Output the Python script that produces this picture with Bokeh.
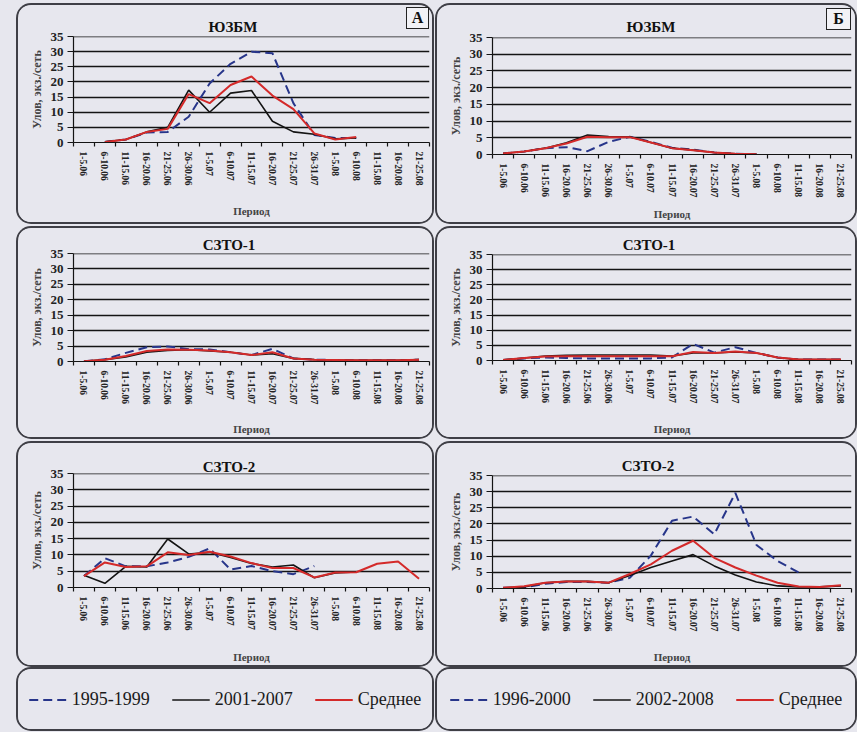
import numpy as np
from bokeh.plotting import figure
from bokeh.models import Range1d, FixedTicker, CustomJSTickFormatter, Div
from bokeh.embed import file_html
from bokeh.resources import INLINE

# ---------------- data ----------------
periods = ["1-5.06", "6-10.06", "11-15.06", "16-20.06", "21-25.06", "26-30.06",
           "1-5.07", "6-10.07", "11-15.07", "16-20.07", "21-25.07", "26-31.07",
           "1-5.08", "6-10.08", "11-15.08", "16-20.08", "21-25.08"]
y_ticks = [0, 5, 10, 15, 20, 25, 30, 35]
NA = None

# column А : 1995-1999 / 2001-2007 / Среднее
a_yuzbm_1995 = [NA, 0.2, 1.0, 3.3, 3.5, 8.5, 19.5, 26.0, 30.0, 29.5, 13.0, 2.5, 1.5, 1.5, NA, NA, NA]
a_yuzbm_2001 = [NA, 0.2, 1.0, 3.5, 5.0, 17.3, 10.0, 16.3, 17.2, 7.0, 3.5, 2.7, 1.2, 1.5, NA, NA, NA]
a_yuzbm_mean = [NA, 0.2, 1.0, 3.5, 4.5, 16.0, 13.0, 19.0, 21.8, 15.5, 11.0, 3.0, 1.0, 1.8, NA, NA, NA]

a_szto1_1995 = [0.1, 0.7, 2.8, 4.6, 4.9, 4.0, 3.9, 3.0, 2.1, 4.1, 1.0, 0.6, 0.5, 0.4, 0.4, 0.4, 0.6]
a_szto1_2001 = [0.1, 0.6, 1.5, 3.0, 3.6, 3.8, 3.4, 3.0, 2.1, 2.5, 1.0, 0.6, 0.5, 0.4, 0.4, 0.4, 0.6]
a_szto1_mean = [0.1, 0.6, 1.8, 3.4, 3.9, 3.8, 3.6, 3.0, 2.1, 3.0, 1.0, 0.6, 0.5, 0.4, 0.4, 0.4, 0.6]

a_szto2_1995 = [3.5, 9.0, 6.5, 6.5, 7.7, 9.4, 12.0, 5.5, 6.6, 5.0, 4.1, 6.6, NA, NA, NA, NA, NA]
a_szto2_2001 = [3.8, 1.3, 6.5, 6.3, 14.9, 10.3, 10.8, 9.2, 7.4, 6.3, 6.9, 3.0, 4.5, 4.8, NA, NA, NA]
a_szto2_mean = [3.5, 7.7, 6.3, 6.5, 10.8, 10.0, 11.0, 9.5, 7.5, 6.0, 6.0, 3.1, 4.6, 4.7, 7.3, 8.0, 2.7]

# column Б : 1996-2000 / 2002-2008 / Среднее
b_yuzbm_1996 = [0.3, 0.9, 1.9, 2.2, 1.0, 3.8, 5.3, 3.8, 2.0, 1.5, 0.6, 0.2, 0.1, NA, NA, NA, NA]
b_yuzbm_2002 = [0.3, 0.9, 1.9, 3.5, 5.8, 5.4, 5.3, 3.6, 1.9, 1.3, 0.6, 0.2, 0.1, NA, NA, NA, NA]
b_yuzbm_mean = [0.3, 0.9, 1.9, 3.3, 5.3, 5.2, 5.2, 3.6, 1.9, 1.3, 0.6, 0.2, 0.1, NA, NA, NA, NA]

b_szto1_1996 = [0.2, 0.7, 1.0, 0.8, 0.7, 0.7, 0.7, 0.7, 1.0, 5.5, 2.6, 4.4, 2.5, 1.0, 0.3, 0.3, 0.3]
b_szto1_2002 = [0.2, 0.8, 1.5, 1.7, 1.8, 1.8, 1.8, 1.8, 1.5, 2.5, 2.5, 2.8, 2.5, 1.0, 0.3, 0.3, 0.3]
b_szto1_mean = [0.2, 0.8, 1.3, 1.4, 1.4, 1.4, 1.4, 1.4, 1.4, 2.8, 2.5, 3.0, 2.5, 1.0, 0.3, 0.3, 0.3]

b_szto2_1996 = [0.2, 0.3, 1.5, 2.0, 2.0, 1.8, 3.3, 10.2, 21.0, 22.3, 16.8, 29.6, 13.5, 8.5, 5.0, NA, NA]
b_szto2_2002 = [0.2, 0.5, 1.8, 2.2, 2.2, 1.8, 4.0, 6.5, 8.5, 10.5, 7.0, 4.2, 2.0, 0.8, 0.5, 0.5, 0.8]
b_szto2_mean = [0.2, 0.7, 1.8, 2.2, 2.2, 1.8, 4.5, 7.5, 11.7, 14.8, 9.5, 6.5, 4.0, 1.8, 0.6, 0.5, 1.0]

legend_a = ["1995-1999", "2001-2007", "Среднее"]
legend_b = ["1996-2000", "2002-2008", "Среднее"]

# ---------------- style ----------------
BG = "#e7e7ee"
BLUE = "#27358a"
BLACK = "#141414"
RED = "#d42a2a"
SERIF = "Liberation Serif"
Y_END = 35.02

n = len(periods)
centers = [i + 0.5 for i in range(n)]
bounds = list(range(n + 1))


def frame_css(left, top):
    return {"position": "absolute", "left": f"{left}px", "top": f"{top}px",
            "border-radius": "13px", "overflow": "hidden",
            "box-shadow": "0 0 0 2px #3f3f46"}


def text_div(text, left, top, width, height, size, boxed=False):
    st = {"position": "absolute", "left": f"{left}px", "top": f"{top}px",
          "font-family": SERIF, "font-weight": "bold", "font-size": f"{size}px",
          "color": "#111", "text-align": "center", "line-height": f"{height}px",
          "box-sizing": "border-box", "white-space": "nowrap"}
    if boxed:
        st.update({"border": "1.5px solid #222", "background-color": "#f2f2f6",
                   "line-height": f"{height - 3}px"})
    return Div(text=text, width=width, height=height, margin=0, styles=st)


def arr(v):
    return np.array([np.nan if a is None else a for a in v], dtype=float)


def panel(series, pos, size, borders, xlab_standoff):
    (px, py), (width, height), (top, bottom, left, right) = pos, size, borders
    p = figure(width=width, height=height, x_range=Range1d(0, n), y_range=Range1d(0, Y_END),
               output_backend="svg", toolbar_location=None,
               min_border_left=left, min_border_right=right,
               min_border_top=top, min_border_bottom=bottom,
               background_fill_color=BG, border_fill_color=BG, outline_line_color=None,
               styles=frame_css(px, py))

    xa = p.xaxis[0]
    xa.ticker = FixedTicker(ticks=centers, minor_ticks=bounds)
    xa.formatter = CustomJSTickFormatter(args=dict(labels=periods),
                                         code="return labels[Math.floor(tick)];")
    xa.major_label_orientation = "vertical"
    xa.major_tick_line_color = None
    xa.minor_tick_line_color = BLACK
    xa.minor_tick_line_width = 1.2
    xa.minor_tick_in = 0
    xa.minor_tick_out = 4
    xa.major_label_standoff = 3
    xa.major_label_text_font = SERIF
    xa.major_label_text_font_style = "bold"
    xa.major_label_text_font_size = "9.5px"
    xa.major_label_text_color = "#222"
    xa.axis_line_color = BLACK
    xa.axis_line_width = 1.2
    xa.axis_label = "Период"
    xa.axis_label_text_font = SERIF
    xa.axis_label_text_font_style = "bold"
    xa.axis_label_text_font_size = "11px"
    xa.axis_label_standoff = xlab_standoff

    ya = p.yaxis[0]
    ya.ticker = FixedTicker(ticks=y_ticks)
    ya.minor_tick_line_color = None
    ya.major_tick_in = 0
    ya.major_tick_out = 6
    ya.major_tick_line_color = BLACK
    ya.major_label_standoff = 4
    ya.major_label_text_font = SERIF
    ya.major_label_text_font_style = "bold"
    ya.major_label_text_font_size = "13px"
    ya.major_label_text_color = "#222"
    ya.axis_line_color = BLACK
    ya.axis_line_width = 1.2
    ya.axis_label = "Улов, экз./сеть"
    ya.axis_label_text_font = SERIF
    ya.axis_label_text_font_style = "bold"
    ya.axis_label_text_font_size = "12px"
    ya.axis_label_standoff = 4

    p.xgrid.visible = False
    p.ygrid.grid_line_color = BLACK
    p.ygrid.grid_line_width = 1.6

    early, late, mean = series
    p.line(centers, arr(early), line_color=BLUE, line_width=2, line_dash="9 5")
    p.line(centers, arr(late), line_color=BLACK, line_width=1.6)
    p.line(centers, arr(mean), line_color=RED, line_width=2)
    return p


def legend_fig(labels, pos, size):
    (px, py), (width, height) = pos, size
    p = figure(width=width, height=height, x_range=Range1d(0, 1), y_range=Range1d(0, 1),
               output_backend="svg", toolbar_location=None, x_axis_type=None, y_axis_type=None,
               min_border=0, background_fill_color=BG, border_fill_color=BG,
               outline_line_color=None, styles=frame_css(px, py))
    p.grid.visible = False
    nan = [np.nan]
    p.line(nan, nan, line_color=BLUE, line_width=2, line_dash="9 5", legend_label=labels[0])
    p.line(nan, nan, line_color=BLACK, line_width=1.6, legend_label=labels[1])
    p.line(nan, nan, line_color=RED, line_width=2.2, legend_label=labels[2])
    lg = p.legend[0]
    lg.orientation = "horizontal"
    lg.location = "center"
    lg.background_fill_alpha = 0
    lg.border_line_color = None
    lg.label_text_font = SERIF
    lg.label_text_font_size = "18px"
    lg.label_text_color = "#1a1a1a"
    lg.glyph_width = 38
    lg.label_standoff = 5
    lg.spacing = 22
    lg.padding = 0
    lg.margin = 0
    return p


WL, WR = 414, 418
XL, XR = 18, 437
a1 = panel((a_yuzbm_1995, a_yuzbm_2001, a_yuzbm_mean), (XL, 5), (WL, 217), (31, 80, 55, 3), 16)
b1 = panel((b_yuzbm_1996, b_yuzbm_2002, b_yuzbm_mean), (XR, 5), (WR, 217), (32, 67, 55, 4), 7)
a2 = panel((a_szto1_1995, a_szto1_2001, a_szto1_mean), (XL, 228), (WL, 209), (25, 74, 55, 3), 15)
b2 = panel((b_szto1_1996, b_szto1_2002, b_szto1_mean), (XR, 228), (WR, 209), (26, 74, 55, 4), 16)
a3 = panel((a_szto2_1995, a_szto2_2001, a_szto2_mean), (XL, 443), (WL, 222), (30, 71, 55, 3), 17)
b3 = panel((b_szto2_1996, b_szto2_2002, b_szto2_mean), (XR, 443), (WR, 222), (32, 71, 55, 4), 16)
la = legend_fig(legend_a, (XL, 669), (WL, 60))
lb = legend_fig(legend_b, (XR, 669), (WR, 60))

titles = [
    text_div("ЮЗБМ", 183, 17, 100, 20, 15),
    text_div("ЮЗБМ", 601, 17, 100, 20, 15),
    text_div("СЗТО-1", 179, 235, 100, 20, 15),
    text_div("СЗТО-1", 599, 235, 100, 20, 15),
    text_div("СЗТО-2", 179, 457, 100, 20, 15),
    text_div("СЗТО-2", 598, 456, 100, 20, 15),
    text_div("А", 406, 7, 23, 22, 16, boxed=True),
    text_div("Б", 826, 8, 25, 22, 16, boxed=True),
]

page_bg = Div(text="", width=857, height=732, margin=0,
              styles={"position": "absolute", "left": "0px", "top": "0px",
                      "background-color": BG})

roots = [page_bg, a1, b1, a2, b2, a3, b3, la, lb] + titles
open("out.html", "w").write(file_html(roots, INLINE))
